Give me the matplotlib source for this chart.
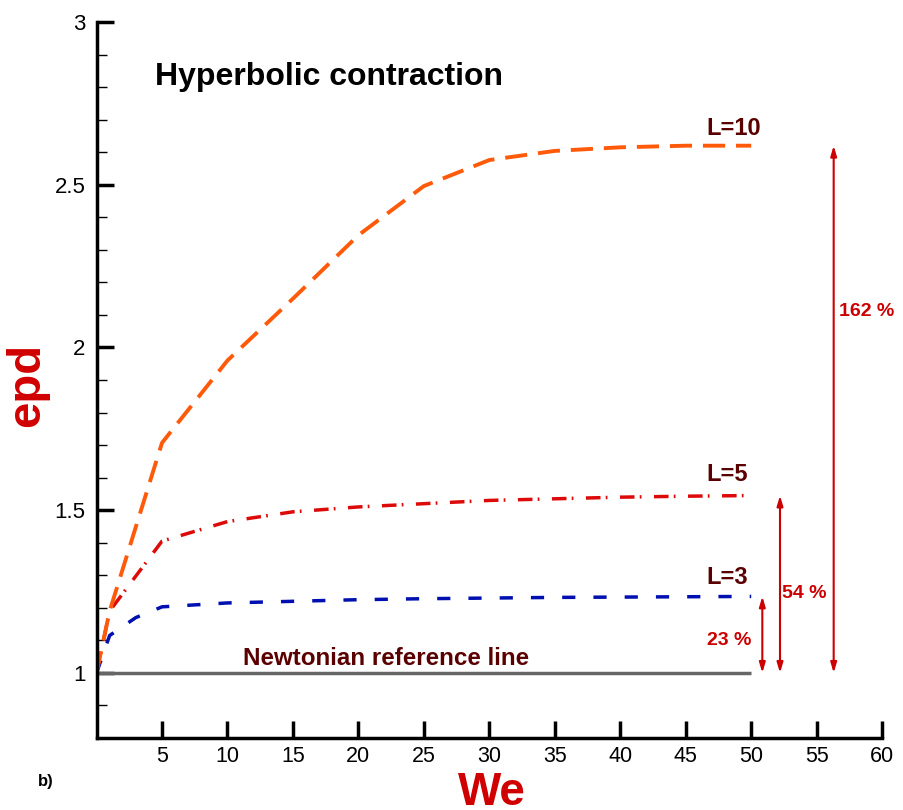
import matplotlib
matplotlib.use("Agg")
import matplotlib.pyplot as plt
import numpy as np

plt.rcParams['font.family'] = ['Liberation Sans', 'DejaVu Sans']

we_10 = [0, 1, 5, 10, 15, 20, 25, 30, 35, 40, 45, 50]
epd_10 = [1.0, 1.19, 1.707, 1.96, 2.15, 2.345, 2.496, 2.576, 2.604, 2.615, 2.62, 2.62]
we_5 = [0, 1, 5, 10, 15, 20, 25, 30, 35, 40, 45, 50]
epd_5 = [1.0, 1.19, 1.405, 1.465, 1.495, 1.51, 1.52, 1.53, 1.535, 1.54, 1.543, 1.545]
we_3 = [0, 1, 3, 5, 10, 15, 20, 25, 30, 35, 40, 45, 50]
epd_3 = [1.0, 1.115, 1.17, 1.203, 1.215, 1.22, 1.225, 1.228, 1.23, 1.232, 1.233, 1.234, 1.235]
we_newt = [0, 50]
epd_newt = [1.0, 1.0]

curve_labels = ["L=10", "L=5", "L=3"]
pct_labels = ["162 %", "54 %", "23 %"]

xticks = [5, 10, 15, 20, 25, 30, 35, 40, 45, 50, 55, 60]
yticks = [1, 1.5, 2, 2.5, 3]
ytick_labels = ["1", "1.5", "2", "2.5", "3"]

fig = plt.figure(figsize=(9.04, 8.10), dpi=100)
ax = fig.add_axes([0.1068, 0.0889, 0.869, 0.8839])

ax.plot(we_newt, epd_newt, color='#666666', lw=2.5, solid_capstyle='butt')
ax.plot(we_3, epd_3, color='#0010b0', lw=2.5, dashes=(3.8, 5.2))
ax.plot(we_5, epd_5, color='#dd0a0a', lw=2.5, dashes=(4.2, 1.5, 0.5, 3.6))
ax.plot(we_10, epd_10, color='#ff5a0a', lw=2.8, dashes=(5.7, 2.8))

ax.set_xlim(0, 60)
ax.set_ylim(0.8, 3)
ax.set_xticks(xticks)
ax.set_yticks(yticks)
ax.set_yticklabels(ytick_labels)
ax.set_yticks(np.arange(0.9, 3.0, 0.1), minor=True)

for s in ['top', 'right']:
    ax.spines[s].set_visible(False)
for s in ['left', 'bottom']:
    ax.spines[s].set_linewidth(2.5)

ax.tick_params(axis='both', which='major', direction='in', length=12, width=2.5,
               labelsize=16, pad=8)
ax.tick_params(axis='x', which='major', labelsize=15.5, pad=6)
ax.tick_params(axis='y', which='minor', direction='in', length=7, width=1)

ax.set_xlabel("We", fontsize=33, fontweight='bold', color='#d00000')
ax.xaxis.set_label_coords(0.503, -0.046)
ax.set_ylabel("epd", fontsize=34, fontweight='bold', color='#d00000')
ax.yaxis.set_label_coords(-0.06, 0.493)

ax.text(4.46, 2.806, "Hyperbolic contraction", fontsize=23, fontweight='bold', color='black')
ax.text(11.2, 1.0246, "Newtonian reference line", fontsize=17.4, fontweight='bold', color='#5a0000')

lab_color = '#5a0000'
ax.text(46.6, 2.653, curve_labels[0], fontsize=17, fontweight='bold', color=lab_color)
ax.text(46.6, 1.59, curve_labels[1], fontsize=17, fontweight='bold', color=lab_color)
ax.text(46.6, 1.273, curve_labels[2], fontsize=17, fontweight='bold', color=lab_color)

arrow_x = [56.3, 52.2, 50.85]
arrow_top = [epd_10[-1], epd_5[-1], epd_3[-1]]
red = '#cc0000'
for xa, yt in zip(arrow_x, arrow_top):
    ax.annotate("", xy=(xa, yt), xytext=(xa, 1.0),
                arrowprops=dict(arrowstyle='<|-|>,head_length=0.6,head_width=0.18',
                                color=red, lw=1.5, shrinkA=0, shrinkB=0))

ax.text(58.8, 2.11, pct_labels[0], fontsize=14, fontweight='bold', color=red, ha='center', va='center')
ax.text(54.04, 1.243, pct_labels[1], fontsize=14, fontweight='bold', color=red, ha='center', va='center')
ax.text(48.3, 1.101, pct_labels[2], fontsize=14, fontweight='bold', color=red, ha='center', va='center')

fig.text(0.042, 0.03, "b)", fontsize=12, fontweight='bold')

fig.savefig("out.png", dpi=100)
